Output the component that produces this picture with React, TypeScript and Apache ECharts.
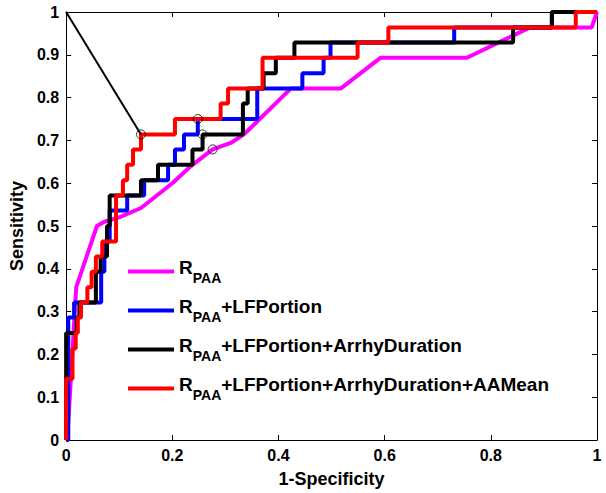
import React, { useEffect, useRef } from 'react';
import * as echarts from 'echarts';

const seriesNames = [
  'RPAA',
  'RPAA+LFPortion',
  'RPAA+LFPortion+ArrhyDuration',
  'RPAA+LFPortion+ArrhyDuration+AAMean',
];
const seriesColors = ['#FF00FF', '#0000FF', '#000000', '#FF0000'];

const magentaFpr = [0, 0.004, 0.019, 0.058, 0.072, 0.1, 0.141, 0.2, 0.235, 0.276, 0.31, 0.335, 0.423, 0.517, 0.592, 0.755, 0.874, 0.99, 1];
const magentaTpr = [0, 0.04, 0.357, 0.5, 0.51, 0.52, 0.542, 0.6, 0.64, 0.679, 0.694, 0.714, 0.821, 0.821, 0.893, 0.893, 0.964, 0.964, 1];

const blueFpr = [0, 0.004, 0.004, 0.015, 0.015, 0.066, 0.066, 0.072, 0.072, 0.082, 0.082, 0.115, 0.115, 0.147, 0.147, 0.192, 0.192, 0.205, 0.205, 0.222, 0.222, 0.248, 0.248, 0.36, 0.36, 0.445, 0.445, 0.485, 0.485, 0.498, 0.498, 0.731, 0.731, 0.915, 0.915, 1];
const blueTpr = [0, 0, 0.286, 0.286, 0.321, 0.321, 0.393, 0.393, 0.464, 0.464, 0.536, 0.536, 0.571, 0.571, 0.607, 0.607, 0.643, 0.643, 0.679, 0.679, 0.714, 0.714, 0.75, 0.75, 0.821, 0.821, 0.857, 0.857, 0.893, 0.893, 0.929, 0.929, 0.964, 0.964, 1, 1];

const blackFpr = [0, 0, 0.02, 0.02, 0.025, 0.025, 0.056, 0.056, 0.065, 0.065, 0.077, 0.077, 0.082, 0.082, 0.141, 0.141, 0.173, 0.173, 0.238, 0.238, 0.257, 0.257, 0.333, 0.333, 0.342, 0.342, 0.372, 0.372, 0.395, 0.395, 0.43, 0.43, 0.842, 0.842, 0.915, 0.915, 1];
const blackTpr = [0, 0.25, 0.25, 0.286, 0.286, 0.321, 0.321, 0.393, 0.393, 0.429, 0.429, 0.5, 0.5, 0.571, 0.571, 0.607, 0.607, 0.643, 0.643, 0.679, 0.679, 0.714, 0.714, 0.786, 0.786, 0.821, 0.821, 0.857, 0.857, 0.893, 0.893, 0.929, 0.929, 0.964, 0.964, 1, 1];

const redFpr = [0, 0, 0.012, 0.012, 0.018, 0.018, 0.022, 0.022, 0.028, 0.028, 0.04, 0.04, 0.048, 0.048, 0.056, 0.056, 0.068, 0.068, 0.094, 0.094, 0.107, 0.107, 0.115, 0.115, 0.126, 0.126, 0.141, 0.141, 0.205, 0.205, 0.291, 0.291, 0.305, 0.305, 0.37, 0.37, 0.549, 0.549, 0.607, 0.607, 0.96, 0.96, 1];
const redTpr = [0, 0.143, 0.143, 0.214, 0.214, 0.25, 0.25, 0.286, 0.286, 0.321, 0.321, 0.357, 0.357, 0.393, 0.393, 0.429, 0.429, 0.464, 0.464, 0.571, 0.571, 0.607, 0.607, 0.643, 0.643, 0.679, 0.679, 0.714, 0.714, 0.75, 0.75, 0.786, 0.786, 0.821, 0.821, 0.893, 0.893, 0.929, 0.929, 0.964, 0.964, 1, 1];

// optimal operating points (circles)
const markerFpr = [0.141, 0.248, 0.257, 0.276];
const markerTpr = [0.714, 0.75, 0.714, 0.679];

// line from the ideal corner to the best point
const optLineFpr = [0, 0.141];
const optLineTpr = [1, 0.714];

const xTickInterval = 0.2;
const yTickInterval = 0.1;

const FONT = 'Arial, "Liberation Sans", sans-serif';

const zip = (a: number[], b: number[]) => a.map((v, i) => [v, b[i]]);

export default function App() {
  const ref = useRef<HTMLDivElement>(null);
  useEffect(() => {
    if (!ref.current) return;
    const chart = echarts.init(ref.current, undefined, { renderer: 'svg' });
    const curves = [
      zip(magentaFpr, magentaTpr),
      zip(blueFpr, blueTpr),
      zip(blackFpr, blackTpr),
      zip(redFpr, redTpr),
    ];
    const axisCommon = {
      type: 'value' as const,
      min: 0,
      max: 1,
      axisLine: { show: true, onZero: false, lineStyle: { color: '#000', width: 1 } },
      axisTick: { show: true, inside: true, length: 5, lineStyle: { color: '#000', width: 1 } },
      splitLine: { show: false },
    };
    const labelStyle = { color: '#000', fontWeight: 'bold' as const, fontSize: 16, fontFamily: FONT };
    chart.setOption({
      animation: false,
      backgroundColor: '#fff',
      textStyle: { fontFamily: FONT },
      grid: { left: 65, right: 9, top: 12, bottom: 53, containLabel: false },
      xAxis: [
        {
          ...axisCommon,
          position: 'bottom',
          interval: xTickInterval,
          axisLabel: { ...labelStyle, margin: 7 },
          name: '1-Specificity',
          nameLocation: 'middle',
          nameGap: 30,
          nameTextStyle: { color: '#000', fontWeight: 'bold', fontSize: 18, fontFamily: FONT },
        },
        {
          ...axisCommon,
          position: 'top',
          interval: xTickInterval,
          axisLabel: { show: false },
        },
      ],
      yAxis: [
        {
          ...axisCommon,
          position: 'left',
          interval: yTickInterval,
          axisLabel: { ...labelStyle, margin: 7 },
          name: 'Sensitivity',
          nameLocation: 'middle',
          nameGap: 40,
          nameTextStyle: { color: '#000', fontWeight: 'bold', fontSize: 18, fontFamily: FONT },
        },
        {
          ...axisCommon,
          position: 'right',
          interval: yTickInterval,
          axisLabel: { show: false },
        },
      ],
      legend: {
        data: seriesNames,
        orient: 'vertical',
        left: 128,
        top: 258,
        padding: 0,
        itemGap: 12,
        itemWidth: 46,
        itemHeight: 4,
        icon: 'rect',
        formatter: (name: string) => {
          const rest = name.slice(4);
          return rest ? `{r|R}{s|PAA}{r|${rest}}{z| }` : `{r|R}{s|PAA}{z| }`;
        },
        textStyle: {
          color: '#000',
          fontFamily: FONT,
          rich: {
            r: {
              fontSize: 19,
              fontWeight: 'bold',
              fontFamily: FONT,
              color: '#000',
              lineHeight: 26,
              verticalAlign: 'top',
            },
            s: {
              fontSize: 14,
              fontWeight: 'bold',
              fontFamily: FONT,
              color: '#000',
              lineHeight: 14,
              verticalAlign: 'bottom',
            },
            z: {
              fontSize: 1,
              lineHeight: 27,
              verticalAlign: 'middle',
            },
          },
        },
      },
      series: [
        ...seriesNames.map((n, i) => ({
          name: n,
          type: 'line',
          data: curves[i],
          showSymbol: false,
          symbol: 'none',
          lineStyle: { color: seriesColors[i], width: 4 },
          itemStyle: { color: seriesColors[i] },
          z: 2 + i,
          clip: true,
        })),
        {
          name: 'opt',
          type: 'line',
          data: zip(optLineFpr, optLineTpr),
          showSymbol: false,
          symbol: 'none',
          lineStyle: { color: '#000', width: 2 },
          itemStyle: { color: '#000' },
          z: 7,
        },
        {
          name: 'points',
          type: 'scatter',
          data: zip(markerFpr, markerTpr),
          symbol: 'circle',
          symbolSize: 9,
          itemStyle: { color: 'rgba(0,0,0,0)', borderColor: '#000', borderWidth: 1 },
          z: 8,
        },
      ],
    });
    return () => chart.dispose();
  }, []);
  return (
    <div
      ref={ref}
      style={{ position: 'fixed', left: 0, top: 0, width: 606, height: 493, background: '#fff' }}
    />
  );
}
